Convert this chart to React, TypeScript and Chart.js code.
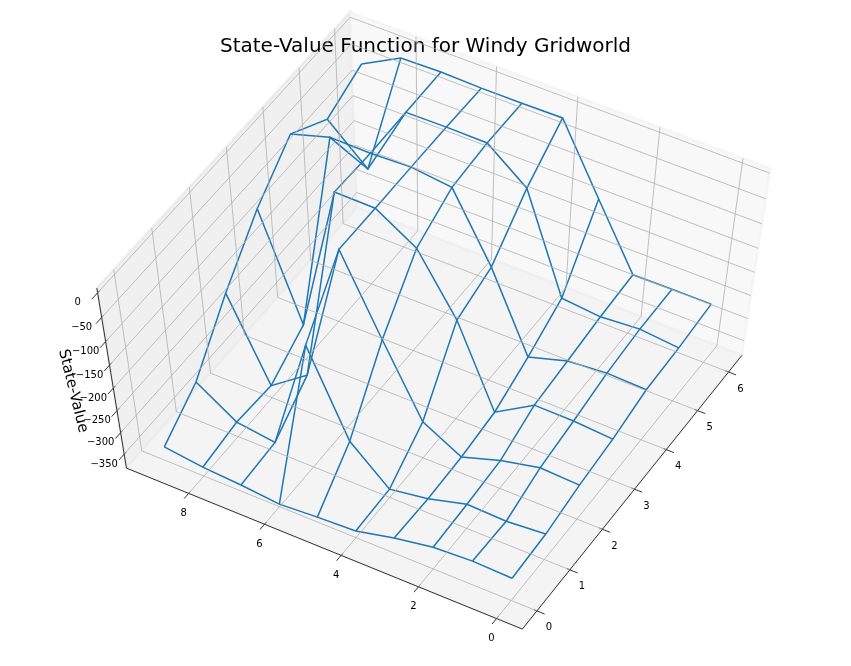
import React, { useEffect, useRef } from "react";
import { Chart, registerables } from "chart.js";
Chart.register(...registerables);

const xValues = [0,1,2,3,4,5,6,7,8,9];
const yValues = [0,1,2,3,4,5,6];
const xTicks = [0,2,4,6,8];
const yTicks = [0,1,2,3,4,5,6];
const zTicks = [0,-50,-100,-150,-200,-250,-300,-350];

const valuesY0 = [-328,-325,-330,-346,-367,-371,-377,-368,-362,-350];
const valuesY1 = [-321,-328,-325,-349,-363,-287,-110,-361,-349,-292];
const valuesY2 = [-302,-298,-317,-345,-299,-152,1,-297,-355,-184];
const valuesY3 = [-289,-283,-282,-333,-163,-47,1,2,-305,-92];
const valuesY4 = [-268,-265,-272,-297,-136,-7,2,-1,0,-23];
const valuesY5 = [-263,-255,-261,-253,-57,1,2,1,-139,-70];
const valuesY6 = [-253,-253,-254,-127,2,1,1,3,1,-38];
const grid = [valuesY0,valuesY1,valuesY2,valuesY3,valuesY4,valuesY5,valuesY6];

const XLO=-0.45,XHI=9.45,YLO=-0.3,YHI=6.3,ZLO=-375.2,ZHI=1.65;
const CX=437,CY=323.5,SX=4520,SY=3519,T=59,DIST=10;
const s3=Math.sqrt(3)/2;
function proj(x:number,y:number,z:number){
  const A=0.5-(x-XLO)/(XHI-XLO),Y=(y-YLO)/(YHI-YLO)-0.5,Z=(z-ZLO)/(ZHI-ZLO)-0.5;
  const u=s3*A+0.5*Y, v=-0.5*s3*A+0.75*Y+0.5*Z, n=0.25*A-0.5*s3*Y+s3*Z;
  const w=DIST-n;
  return {x:u/w,y:v/w};
}

const XP0=XLO-(XHI-XLO)/48,XP1=XHI+(XHI-XLO)/48,YP0=YLO-(YHI-YLO)/48,YP1=YHI+(YHI-YLO)/48,ZP0=ZLO-(ZHI-ZLO)/48,ZP1=ZHI+(ZHI-ZLO)/48;

function line(pts:any[],color:string,width:number){
  return {data:pts,showLine:true,borderColor:color,borderWidth:width,pointRadius:0,clip:false as any,tension:0,fill:false};
}

export default function App(){
  const ref=useRef<HTMLCanvasElement>(null);
  useEffect(()=>{
    const ds:any[]=[];
    for(const z of zTicks) ds.push(line([proj(XP1,YP0,z),proj(XP1,YP1,z),proj(XP0,YP1,z)],"#b0b0b0",0.8));
    for(const x of xTicks) ds.push(line([proj(x,YP0,ZP0),proj(x,YP1,ZP0),proj(x,YP1,ZP1)],"#b0b0b0",0.8));
    for(const y of yTicks) ds.push(line([proj(XP0,y,ZP0),proj(XP1,y,ZP0),proj(XP1,y,ZP1)],"#b0b0b0",0.8));
    ds.push(line([proj(XP0,YP0,ZP0),proj(XP1,YP0,ZP0)],"#000",0.8));
    ds.push(line([proj(XP0,YP0,ZP0),proj(XP0,YP1,ZP0)],"#000",0.8));
    ds.push(line([proj(XP1,YP0,ZP0),proj(XP1,YP0,ZP1)],"#000",0.8));
    const yd=(YHI-YLO),xd=(XHI-XLO);
    for(const x of xTicks) ds.push(line([proj(x,YP0-0.02*yd,ZP0),proj(x,YP0+0.008*yd,ZP0)],"#000",0.8));
    for(const y of yTicks) ds.push(line([proj(XP0-0.02*xd,y,ZP0),proj(XP0+0.008*xd,y,ZP0)],"#000",0.8));
    for(const z of zTicks) ds.push(line([proj(XP1,YP0-0.0225*yd,z),proj(XP1,YP0+0.0085*yd,z)],"#000",0.8));
    grid.forEach((r,j)=>ds.push(line(r.map((z,i)=>proj(xValues[i],yValues[j],z)),"#1f77b4",1.5)));
    xValues.forEach((x,i)=>ds.push(line(grid.map((r,j)=>proj(x,yValues[j],r[i])),"#1f77b4",1.5)));
    const poly=(c:any,ctx:any,pts:any[],color:string,edge:string)=>{
      ctx.beginPath();
      pts.forEach((p,i)=>{const a=c.scales.x.getPixelForValue(p.x),b=c.scales.y.getPixelForValue(p.y);i?ctx.lineTo(a,b):ctx.moveTo(a,b);});
      ctx.closePath();ctx.fillStyle=color;ctx.fill();
      ctx.strokeStyle=edge;ctx.lineWidth=2.5;ctx.lineJoin="miter";ctx.stroke();
    };
    const panes={id:"panes",beforeDraw(c:any){
      const ctx=c.ctx;ctx.save();
      poly(c,ctx,[proj(XP1,YP0,ZP0),proj(XP1,YP1,ZP0),proj(XP1,YP1,ZP1),proj(XP1,YP0,ZP1)],"#f0f0f0","rgba(225,225,225,0.5)");
      poly(c,ctx,[proj(XP0,YP1,ZP0),proj(XP1,YP1,ZP0),proj(XP1,YP1,ZP1),proj(XP0,YP1,ZP1)],"#f8f8f8","rgba(240,240,240,0.5)");
      poly(c,ctx,[proj(XP0,YP0,ZP0),proj(XP1,YP0,ZP0),proj(XP1,YP1,ZP0),proj(XP0,YP1,ZP0)],"#f4f4f4","rgba(235,235,235,0.5)");
      ctx.restore();
    }};
    const labels={id:"labels",afterDraw(c:any){
      const ctx=c.ctx;ctx.save();
      ctx.font='10px "DejaVu Sans"';ctx.fillStyle="#000";ctx.textAlign="center";ctx.textBaseline="middle";
      const px=(p:any)=>[c.scales.x.getPixelForValue(p.x),c.scales.y.getPixelForValue(p.y)];
      for(const x of xTicks){const [a,b]=px(proj(x,YP0,ZP0));ctx.fillText(String(x),a-5,b+20);}
      for(const y of yTicks){const [a,b]=px(proj(XP0,y,ZP0));ctx.fillText(String(y),a+12,b+17);}
      for(const z of zTicks){const [a,b]=px(proj(XP1,YP0,z));ctx.fillText(String(z).replace("-","\u2212"),a-20,b+10);}
      ctx.font='15px "DejaVu Sans"';
      ctx.translate(73,391);ctx.rotate(76*Math.PI/180);ctx.fillText("State-Value",0,0);
      ctx.restore();
    }};
    const chart=new Chart(ref.current!,{type:"scatter",data:{datasets:ds},plugins:[panes,labels],options:{
      responsive:false,animation:false,devicePixelRatio:1,layout:{padding:0},
      plugins:{legend:{display:false},tooltip:{enabled:false},
        title:{display:true,text:"State-Value Function for Windy Gridworld",color:"#000",font:{size:20,family:"DejaVu Sans",weight:"normal",lineHeight:1.2},padding:{top:35,bottom:0}}},
      scales:{x:{type:"linear",display:false,min:-CX/SX,max:(851-CX)/SX},y:{type:"linear",display:false,min:(CY-666)/SY,max:(CY-T)/SY}}
    }} as any);
    return ()=>chart.destroy();
  },[]);
  return <canvas ref={ref} width={851} height={666} style={{position:"fixed",left:0,top:0,display:"block"}}/>;
}
